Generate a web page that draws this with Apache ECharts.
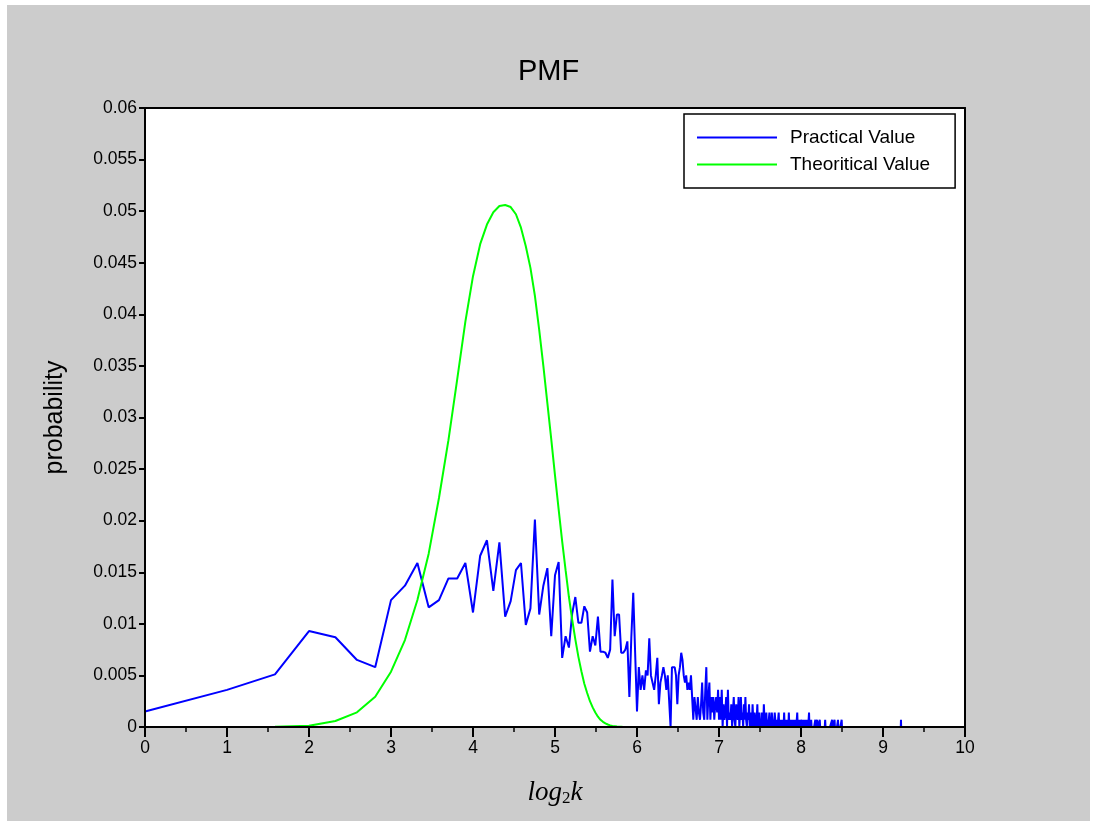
<!DOCTYPE html>
<html>
<head>
<meta charset="utf-8">
<script src="https://cdn.jsdelivr.net/npm/echarts@6/dist/echarts.min.js"></script>
<style>
html,body{margin:0;padding:0;background:#ffffff;width:1098px;height:826px;overflow:hidden;}
#chart{position:absolute;left:7px;top:5px;width:1083px;height:816px;}
</style>
</head>
<body>
<div id="chart"></div>
<script>
// Probabilities, for k = 1, 2, 3, ... (plotted at x = log2 k)
const practicalP = [
  // k 1-10
  0.0015, 0.0036, 0.0051, 0.0093, 0.0087, 0.0065, 0.0058, 0.0123, 0.0137, 0.0159,
  // k 11-20
  0.0116, 0.0123, 0.0144, 0.0144, 0.0159, 0.0111, 0.0166, 0.0181, 0.0132, 0.0179,
  // k 21-30
  0.0107, 0.0122, 0.0152, 0.0159, 0.0099, 0.0115, 0.0201, 0.0109, 0.0137, 0.0154,
  // k 31-40
  0.0088, 0.0147, 0.0160, 0.0067, 0.0088, 0.0077, 0.0110, 0.0126, 0.0101, 0.0101,
  // k 41-50
  0.0117, 0.0111, 0.0073, 0.0088, 0.0079, 0.0107, 0.0073, 0.0073, 0.0072, 0.0067,
  // k 51-60
  0.0075, 0.0143, 0.0088, 0.0109, 0.0109, 0.0072, 0.0072, 0.0075, 0.0083, 0.0029,
  // k 61-64
  0.0087, 0.0130, 0.0072, 0.0015,
  // k 65-74
  0.0058, 0.0036, 0.0050, 0.0036, 0.0055, 0.0050, 0.0086, 0.0050, 0.0050, 0.0036,
  // k 75-84
  0.0050, 0.0067, 0.0022, 0.0043, 0.0050, 0.0058, 0.0050, 0.0036, 0.0050, 0.0050,
  // k 85-94
  0, 0.0058, 0.0058, 0.0058, 0.0050, 0.0022, 0.0050, 0.0058, 0.0072, 0.0065,
  // k 95-104
  0.0050, 0.0043, 0.0050, 0.0036, 0.0043, 0.0036, 0.0050, 0.0029, 0.0007, 0.0029,
  // k 105-114
  0.0029, 0.0007, 0.0029, 0.0014, 0.0007, 0.0022, 0.0043, 0.0014, 0.0007, 0.0036,
  // k 115-128
  0.0058, 0.0007, 0.0029, 0.0043, 0.0007, 0.0029, 0.0014, 0.0029, 0.0007, 0.0022, 0.0029, 0.0014, 0.0036, 0.0007,
  // k 129-140
  0.0029, 0.0007, 0.0036, 0, 0.0022, 0.0007, 0.0014, 0.0029, 0, 0.0036, 0.0007, 0.0014,
  // k 141-153
  0.0007, 0.0022, 0, 0.0014, 0.0029, 0.0007, 0, 0.0022, 0.0014, 0.0007, 0.0029, 0, 0.0014,
  // k 154-166
  0.0029, 0.0007, 0.0014, 0, 0.0022, 0.0007, 0.0029, 0.0007, 0, 0.0014, 0.0007, 0.0022, 0,
  // k 167-181
  0.0007, 0.0014, 0, 0.0022, 0.0007, 0, 0.0014, 0.0007, 0, 0.0007, 0.0022, 0, 0.0007, 0.0014, 0,
  // k 182-196
  0.0007, 0, 0.0014, 0.0007, 0, 0.0022, 0.0007, 0, 0.0007, 0.0014, 0, 0.0007, 0, 0.0007, 0.0014,
  // k 197-213
  0, 0.0007, 0, 0.0014, 0.0007, 0, 0.0007, 0, 0.0014, 0.0007, 0, 0, 0.0007, 0, 0.0007, 0.0014, 0,
  // k 214-232
  0.0007, 0, 0.0007, 0, 0, 0.0007, 0.0007, 0, 0.0014, 0, 0.0007, 0, 0, 0.0007, 0, 0.0007, 0, 0.0014, 0,
  // k 233-256
  0.0007, 0, 0, 0.0007, 0, 0.0007, 0, 0, 0.0007, 0, 0, 0.0007, 0.0007, 0, 0, 0.0014, 0, 0.0007, 0, 0, 0.0007, 0, 0, 0.0007,
  // k 257-281
  0.0007, 0.0007, 0, 0.0007, 0, 0.0007, 0.0007, 0, 0, 0.0007, 0, 0.0007, 0, 0, 0.0007, 0, 0.0007, 0.0014, 0, 0.0007, 0, 0, 0.0007, 0, 0,
  // k 282-288
  0, 0, 0, 0, 0, 0, 0,
  // k 289
  0.0007,
  // k 290-292
  0, 0, 0,
  // k 293
  0.0007,
  // k 294-299
  0, 0, 0, 0, 0, 0,
  // k 300
  0.0007,
  // k 301-313
  0, 0, 0, 0, 0, 0, 0, 0, 0, 0, 0, 0, 0,
  // k 314
  0.0007,
  // k 315-332
  0, 0, 0, 0, 0, 0, 0, 0, 0, 0, 0, 0, 0, 0, 0, 0, 0, 0,
  // k 333
  0.0007,
  // k 334-339
  0, 0, 0, 0, 0, 0,
  // k 340
  0.0007,
  // k 341-349
  0, 0, 0, 0, 0, 0, 0, 0, 0,
  // k 350
  0.0007,
  // k 351-360
  0, 0, 0, 0, 0, 0, 0, 0, 0, 0,
  // k 361-362
  0.0007, 0
];
// isolated far-tail observation
const practicalTailK = [595, 596, 597];
const practicalTailP = [0, 0.0007, 0];

// Theoretical PMF, k = 1..64
const theoreticalP = [
  0, 0, 0.00002, 0.00013, 0.00058, 0.00142, 0.00294, 0.00536, 0.00843, 0.01231,
  0.0168, 0.0222, 0.0278, 0.0337, 0.0393, 0.0437, 0.0468, 0.0487, 0.0499, 0.0505,
  0.0506, 0.0504, 0.0497, 0.0484, 0.0466, 0.0445, 0.0418, 0.0385, 0.0350, 0.0314,
  0.0279, 0.0244, 0.0211, 0.0180, 0.0152, 0.0126, 0.0104, 0.0085, 0.0068, 0.0054,
  0.0042, 0.0033, 0.0025, 0.0019, 0.0014, 0.0010, 0.0007, 0.0005, 0.00035, 0.00024,
  0.00016, 0.00010, 0.00007, 0.00004, 0.00003, 0.00002, 0.00001, 0.00001, 0, 0,
  0, 0, 0, 0
];

const seriesNames = ['Practical Value', 'Theoritical Value'];
const xTicks = [0, 1, 2, 3, 4, 5, 6, 7, 8, 9, 10];

const practicalData = practicalP.map((p, i) => [Math.log2(i + 1), p])
  .concat(practicalTailK.map((k, i) => [Math.log2(k), practicalTailP[i]]));
const theoreticalData = theoreticalP.map((p, i) => [Math.log2(i + 1), p]);

const chart = echarts.init(document.getElementById('chart'), null, {renderer: 'canvas'});
const FONT = 'Liberation Sans, Arial, sans-serif';
const option = {
  backgroundColor: '#cccccc',
  animation: false,
  title: {
    text: 'PMF',
    left: 'center',
    top: 47,
    textStyle: {fontFamily: FONT, fontSize: 29, fontWeight: 'normal', color: '#000'}
  },
  legend: {
    data: seriesNames,
    orient: 'vertical',
    left: 677,
    top: 109,
    icon: 'rect',
    itemWidth: 80,
    itemHeight: 2,
    itemGap: 8,
    padding: [14, 25, 14, 13],
    backgroundColor: '#ffffff',
    borderColor: '#000',
    borderWidth: 1.5,
    borderRadius: 0,
    textStyle: {fontFamily: FONT, fontSize: 19, color: '#000', padding: [0, 0, 0, 8]}
  },
  grid: {
    left: 138, top: 103, width: 820, height: 619,
    show: true, backgroundColor: '#ffffff', borderColor: '#000', borderWidth: 0
  },
  xAxis: [{
    type: 'value', min: 0, max: 10, interval: 1, z: 10,
    name: '{i|log}{s|2}{i|k}',
    nameLocation: 'middle', nameGap: 52,
    nameTextStyle: {
      rich: {
        i: {fontFamily: 'Liberation Serif, serif', fontStyle: 'italic', fontSize: 27, color: '#000'},
        s: {fontFamily: 'Liberation Serif, serif', fontSize: 17, color: '#000', padding: [11, 0, 0, 0]}
      }
    },
    axisLine: {show: true, onZero: false, lineStyle: {color: '#000', width: 2}},
    axisTick: {show: true, length: 10, lineStyle: {color: '#000', width: 2}},
    minorTick: {show: true, splitNumber: 2, length: 5, lineStyle: {color: '#000', width: 1.5}},
    splitLine: {show: false},
    axisLabel: {
      margin: 12, color: '#000', fontFamily: FONT, fontSize: 17.5,
      formatter: v => xTicks.indexOf(v) >= 0 ? String(v) : ''
    }
  }, {
    type: 'value', min: 0, max: 10, position: 'top', z: 10,
    axisLine: {show: true, onZero: false, lineStyle: {color: '#000', width: 2}},
    axisTick: {show: false}, axisLabel: {show: false}, splitLine: {show: false}
  }],
  yAxis: [{
    type: 'value', min: 0, max: 0.06, interval: 0.005, z: 10,
    name: 'probability',
    nameLocation: 'middle', nameGap: 77, nameRotate: 90,
    nameTextStyle: {fontFamily: FONT, fontSize: 25, color: '#000'},
    axisLine: {show: true, onZero: false, lineStyle: {color: '#000', width: 2}},
    axisTick: {show: true, length: 6, lineStyle: {color: '#000', width: 2}},
    splitLine: {show: false},
    axisLabel: {margin: 8, color: '#000', fontFamily: FONT, fontSize: 17.5}
  }, {
    type: 'value', min: 0, max: 1, position: 'right', z: 10,
    axisLine: {show: true, onZero: false, lineStyle: {color: '#000', width: 2}},
    axisTick: {show: false}, axisLabel: {show: false}, splitLine: {show: false}
  }],
  series: [{
    name: seriesNames[0],
    type: 'line',
    xAxisIndex: 0, yAxisIndex: 0,
    data: practicalData,
    symbol: 'none', showSymbol: false,
    color: '#0000ff',
    lineStyle: {color: '#0000ff', width: 2},
    z: 2
  }, {
    name: seriesNames[1],
    type: 'line',
    xAxisIndex: 0, yAxisIndex: 0,
    data: theoreticalData,
    symbol: 'none', showSymbol: false,
    color: '#00ff00',
    lineStyle: {color: '#00ff00', width: 2},
    z: 2
  }]
};
chart.setOption(option);
</script>
</body>
</html>
